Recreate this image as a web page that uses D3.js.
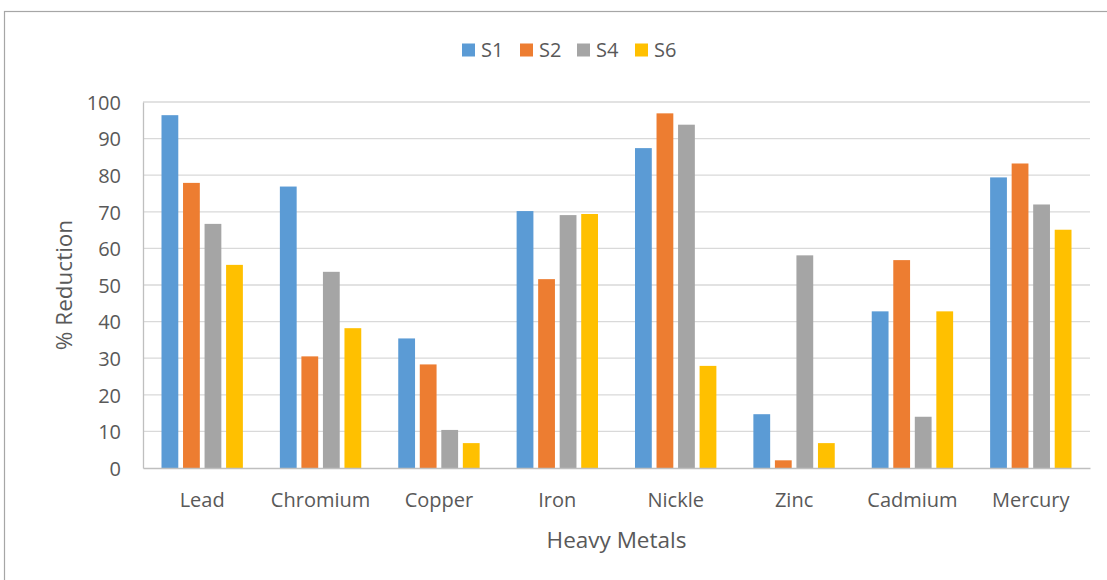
<!DOCTYPE html>
<html>
<head>
<meta charset="utf-8">
<script src="https://cdn.jsdelivr.net/npm/d3@7"></script>
<style>
  html, body { margin: 0; padding: 0; background: #fff; }
  svg { display: block; }
  text { font-family: "Open Sans", "Liberation Sans", sans-serif; fill: #595959; }
</style>
</head>
<body>
<svg id="chart" width="1107" height="580"></svg>
<script>
// Heavy metal reduction per sample
const categories = ["Lead", "Chromium", "Copper", "Iron", "Nickle", "Zinc", "Cadmium", "Mercury"];
const seriesNames = ["S1", "S2", "S4", "S6"];
const s1 = [96.4, 76.9, 35.4, 70.2, 87.4, 14.7, 42.8, 79.4];
const s2 = [77.9, 30.5, 28.3, 51.6, 96.9, 2.1, 56.8, 83.2];
const s4 = [66.7, 53.6, 10.4, 69.1, 93.8, 58.1, 14.0, 72.0];
const s6 = [55.5, 38.2, 6.8, 69.4, 27.9, 6.8, 42.8, 65.1];
const yTicks = [0, 10, 20, 30, 40, 50, 60, 70, 80, 90, 100];
const colors = ["#5B9BD5", "#ED7D31", "#A5A5A5", "#FFC000"];

const seriesValues = [s1, s2, s4, s6];
const rows = categories.map((c, i) => ({
  cat: c,
  vals: seriesNames.map((s, j) => ({ key: s, value: seriesValues[j][i] }))
}));

const svg = d3.select("#chart");

// outer chart frame
svg.append("rect")
  .attr("x", 4.5).attr("y", 11.5)
  .attr("width", 1200).attr("height", 700)
  .attr("fill", "none").attr("stroke", "#A6A6A6").attr("stroke-width", 1.2);

const plot = { left: 143, right: 1090, top: 102, bottom: 468 };

const x0 = d3.scaleBand().domain(categories).range([plot.left, plot.right]).padding(0);
const groupFrac = 0.6875;
const x1 = d3.scaleBand().domain(seriesNames)
  .range([0, x0.bandwidth() * groupFrac])
  .paddingInner(0.22).paddingOuter(0);
const groupOffset = x0.bandwidth() * (1 - groupFrac) / 2;

const y = d3.scaleLinear().domain([0, 100]).range([plot.bottom, plot.top]);

// horizontal gridlines
svg.append("g")
  .selectAll("line")
  .data(yTicks.filter(t => t > 0))
  .join("line")
  .attr("x1", plot.left).attr("x2", plot.right)
  .attr("y1", d => y(d)).attr("y2", d => y(d))
  .attr("stroke", "#D9D9D9").attr("stroke-width", 1.3);

// y axis labels
const yAxis = d3.axisLeft(y).tickValues(yTicks).tickSize(0).tickPadding(22);
const gy = svg.append("g").attr("transform", `translate(${plot.left},0)`).call(yAxis);
gy.select(".domain").attr("stroke", "#BFBFBF").attr("stroke-width", 1.3);
gy.selectAll("text").style("font-size", "20px").attr("fill", "#595959").attr("dy", "0.36em");

// bars
const groups = svg.append("g")
  .selectAll("g")
  .data(rows)
  .join("g")
  .attr("transform", d => `translate(${x0(d.cat) + groupOffset},0)`);

groups.selectAll("rect")
  .data(d => d.vals)
  .join("rect")
  .attr("x", d => x1(d.key))
  .attr("width", x1.bandwidth())
  .attr("y", d => y(d.value))
  .attr("height", d => y(0) - y(d.value))
  .attr("fill", (d, i) => colors[i]);

// x axis
const xAxis = d3.axisBottom(x0).tickSize(0);
const gx = svg.append("g").attr("transform", `translate(0,${plot.bottom})`).call(xAxis);
gx.select(".domain").attr("stroke", "#BFBFBF").attr("stroke-width", 1.5);
gx.selectAll("text").style("font-size", "20px").attr("fill", "#595959")
  .attr("y", 39).attr("dy", null);

// axis titles
svg.append("text")
  .attr("transform", `translate(72,${(plot.top + plot.bottom) / 2}) rotate(-90)`)
  .attr("text-anchor", "middle")
  .style("font-size", "22.5px")
  .text("% Reduction");

svg.append("text")
  .attr("x", (plot.left + plot.right) / 2)
  .attr("y", 548)
  .attr("text-anchor", "middle")
  .style("font-size", "22.5px")
  .text("Heavy Metals");

// legend
const legendX = [462, 520, 577, 635];
const legend = svg.append("g")
  .selectAll("g")
  .data(seriesNames)
  .join("g")
  .attr("transform", (d, i) => `translate(${legendX[i]},43.5)`);
legend.append("rect").attr("width", 13).attr("height", 13).attr("fill", (d, i) => colors[i]);
legend.append("text").attr("x", 19).attr("y", 13).style("font-size", "20px").text(d => d);
</script>
</body>
</html>
